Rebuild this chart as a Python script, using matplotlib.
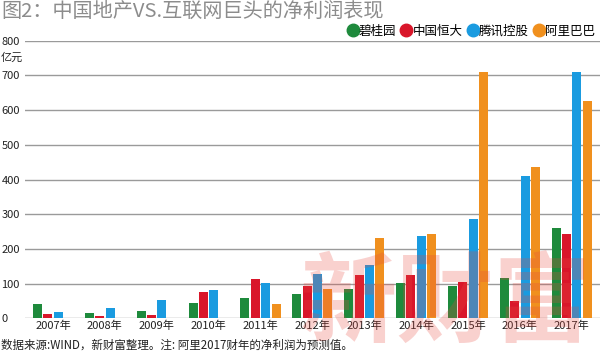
import numpy as np
import matplotlib.pyplot as plt

plt.rcParams['font.family'] = ['Noto Sans CJK SC', 'DejaVu Sans']

years = ['2007年', '2008年', '2009年', '2010年', '2011年', '2012年',
         '2013年', '2014年', '2015年', '2016年', '2017年']
names = ['碧桂园', '中国恒大', '腾讯控股', '阿里巴巴']
country_garden = [41, 14, 21, 43, 58, 69, 85, 101, 93, 115, 260]
evergrande = [11, 7, 10, 76, 114, 93, 125, 125, 104, 51, 243]
tencent = [17, 29, 53, 81, 101, 127, 155, 237, 287, 410, 711]
alibaba = [np.nan, np.nan, np.nan, np.nan, 42, 85, 232, 242, 711, 435, 627]
colors = ['#1e8a3c', '#d9162a', '#1a9be0', '#f0901e']
yticks = [0, 100, 200, 300, 400, 500, 600, 700, 800]

series = [country_garden, evergrande, tencent, alibaba]

fig = plt.figure(figsize=(6, 3.52), dpi=100)
ax = fig.add_axes([25 / 600, 33.7 / 352, 575 / 600, 277.6 / 352])

x = np.arange(len(years))
offsets = [-0.3, -0.1, 0.1, 0.3]
for vals, off, c, n in zip(series, offsets, colors, names):
    ax.bar(x + off, vals, width=0.175, color=c, label=n, zorder=3)

ax.set_xlim(-0.54, 10.545)
ax.set_ylim(0, 800)
ax.set_yticks(yticks)
ax.set_xticks(x)
ax.set_xticklabels(years)
ax.grid(axis='y', color='#9a9a9a', linewidth=1, zorder=0)
for s in ax.spines.values():
    s.set_visible(False)
ax.tick_params(length=0)
ax.tick_params(axis='x', pad=2, labelsize=8, labelcolor='#222222')
ax.tick_params(axis='y', pad=17, labelsize=8, labelcolor='#222222')
for lab in ax.get_yticklabels():
    lab.set_horizontalalignment('left')
for lab in ax.get_xticklabels() + ax.get_yticklabels():
    lab.set_family(['Liberation Sans Narrow', 'Noto Sans CJK SC', 'DejaVu Sans'])

fig.text(1 / 600, 1 - 58 / 352, '亿元', fontsize=8, color='#222222', va='center')
fig.text(1 / 600, 1 - 11 / 352, '图2：中国地产VS.互联网巨头的净利润表现',
         fontsize=14.5, color='#8c8c8c', va='center')
fig.text(1 / 600, 1 - 345 / 352,
         '数据来源:WIND，新财富整理。注: 阿里2017财年的净利润为预测值。',
         fontsize=8.3, color='#222222', va='center')

# watermark
fig.text(445 / 600, 1 - 305 / 352, '新财富', fontsize=70, fontweight='bold',
         color='#e8483f', alpha=0.25, ha='center', va='center', zorder=10)

handles = [plt.Line2D([], [], marker='o', linestyle='', markersize=9,
                      color=c) for c in colors]
fig.legend(handles, names, loc='center right', bbox_to_anchor=(1.0, 1 - 31 / 352),
           ncol=4, frameon=False, fontsize=9, handletextpad=0.0,
           columnspacing=0.3, handlelength=1.0, borderaxespad=0)

fig.savefig('out.png', dpi=100)
